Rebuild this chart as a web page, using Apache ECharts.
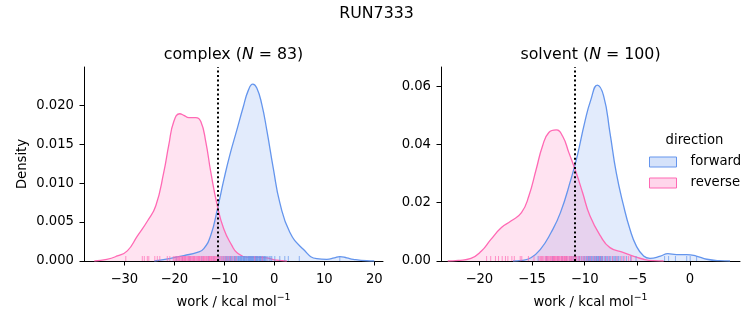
<!DOCTYPE html>
<html>
<head>
<meta charset="utf-8">
<script src="https://cdn.jsdelivr.net/npm/echarts@6/dist/echarts.min.js"></script>
<style>
  html, body { margin: 0; padding: 0; background: #fff; }
  #chart { width: 753px; height: 325px; }
</style>
</head>
<body>
<div id="chart"></div>
<script>
// ---- data -------------------------------------------------------------
// Kernel density curves (work in kcal/mol, density)
const complexForwardWork    = [-24.0, -21.0, -18.1, -15.4, -14.1, -12.7, -11.4, -10.1, -8.9, -7.5, -6.2, -5.2, -4.3, -3.5, -2.5, -1.5, -0.2, 1.1, 3.1, 5.8, 8.5, 10.5, 12.0, 13.1, 14.5, 15.8, 18.5, 20.0];
const complexForwardDensity = [0, 0.0003, 0.0007, 0.0011, 0.0016, 0.0033, 0.0066, 0.0104, 0.0136, 0.0168, 0.0198, 0.0219, 0.0227, 0.0222, 0.0201, 0.0168, 0.0119, 0.0075, 0.0037, 0.0015, 0.0003, 0.00022, 0.0004, 0.00056, 0.0004, 0.00022, 0.00003, 0];

const complexReverseWork    = [-36.0, -33.5, -31.4, -29.4, -27.4, -25.3, -23.7, -22.1, -21.1, -20.1, -18.9, -18.1, -17.1, -15.7, -14.7, -13.7, -12.7, -11.4, -10.1, -8.5, -7.5, -5.5, -3.5, -1.5, 0.5, 2.5];
const complexReverseDensity = [0, 0.0002, 0.00065, 0.0013, 0.0032, 0.0052, 0.0071, 0.0114, 0.0149, 0.0179, 0.0189, 0.0187, 0.0184, 0.0184, 0.0179, 0.0153, 0.0114, 0.0071, 0.0041, 0.0020, 0.0011, 0.0005, 0.0005, 0.0004, 0.0001, 0];

const solventForwardWork    = [-16.8, -16.0, -15.1, -14.2, -13.2, -12.3, -11.3, -10.7, -10.0, -9.4, -8.8, -8.2, -7.6, -7.0, -6.3, -5.7, -5.1, -4.4, -3.8, -2.8, -2.1, -1.3, -0.3, 0.6, 1.6, 2.8, 3.8];
const solventForwardDensity = [0, 0.0002, 0.0011, 0.0040, 0.0097, 0.0166, 0.0281, 0.0361, 0.0475, 0.0555, 0.0604, 0.0567, 0.0441, 0.0303, 0.0189, 0.0109, 0.0052, 0.0017, 0.0009, 0.0017, 0.0025, 0.0022, 0.0022, 0.0017, 0.0006, 0.0001, 0];

const solventReverseWork    = [-23.0, -22.0, -20.8, -19.8, -18.9, -17.9, -17.0, -16.0, -15.3, -14.6, -14.0, -13.4, -12.7, -12.1, -11.5, -10.8, -10.2, -9.5, -8.5, -7.6, -6.3, -5.4, -4.4, -3.5, -2.5];
const solventReverseDensity = [0, 0.0002, 0.0009, 0.0034, 0.0074, 0.0115, 0.0137, 0.0166, 0.0223, 0.0315, 0.0395, 0.0441, 0.0450, 0.0429, 0.0372, 0.0303, 0.0235, 0.0155, 0.0086, 0.0046, 0.0029, 0.0017, 0.0006, 0.0001, 0];

// Individual work values (rug marks)
const complexForwardRug = [-19.6, -18.4, -16.9, -14.5, -13.2, -12.1, -11.2, -10.9, -10.5, -10.2, -9.9, -9.7, -9.4, -9.2, -9.0, -8.7, -8.5, -8.3, -8.0, -7.8, -7.6, -7.4, -7.2, -7.0, -6.8, -6.7, -6.5, -6.3, -6.1, -6.0, -5.8, -5.6, -5.5, -5.3, -5.1, -5.0, -4.8, -4.7, -4.5, -4.4, -4.2, -4.1, -3.9, -3.8, -3.6, -3.4, -3.3, -3.1, -2.9, -2.8, -2.6, -2.4, -2.2, -2.0, -1.8, -1.6, -1.3, -1.0, -0.7, -0.5, 0.1, 1.1, 2.1, 2.8, 5.0, 13.1, -4.6, -5.2, -3.7, -6.6, -7.9, -2.7, -8.8, -4.3, -3.0, -5.9, -1.9, -6.2, -9.6, -4.9, -3.5, -2.3, -7.1];
const complexReverseRug = [-29.7, -26.4, -26.0, -25.4, -25.1, -23.9, -23.4, -22.9, -21.4, -20.9, -20.2, -19.9, -19.7, -19.5, -19.2, -19.0, -18.9, -18.7, -18.5, -18.3, -18.2, -18.0, -17.8, -17.7, -17.5, -17.3, -17.2, -17.0, -16.8, -16.7, -16.5, -16.4, -16.2, -16.0, -15.9, -15.7, -15.5, -15.4, -15.2, -15.0, -14.9, -14.7, -14.5, -14.3, -14.2, -14.0, -13.8, -13.6, -13.5, -13.3, -13.1, -12.9, -12.8, -12.6, -12.4, -12.2, -12.0, -11.8, -11.6, -11.4, -11.2, -10.9, -10.7, -10.4, -10.1, -9.8, -9.4, -9.0, -8.6, -8.1, -7.6, -3.9, -2.4, -18.4, -17.1, -16.1, -15.1, -14.1, -13.0, -12.5, -19.3, -11.9, -17.9];
const solventForwardRug = [-14.42, -13.61, -13.04, -12.53, -12.12, -11.74, -11.41, -11.08, -10.83, -10.62, -10.34, -10.16, -9.97, -9.83, -9.64, -9.52, -9.37, -9.21, -9.06, -8.94, -8.83, -8.71, -8.56, -8.44, -8.32, -8.13, -8.02, -7.84, -7.69, -7.51, -7.33, -7.12, -6.91, -6.63, -6.34, -6.02, -5.63, -5.12, -2.41, -2.03, -1.38, -0.31, 0.02, 0.63, -9.12, -8.88, -8.66, -8.49, -8.27, -8.91, -9.43, -9.74, -10.05, -7.95, -7.61, -7.22, -8.61, -9.29, -8.38, -10.48, -7.04, -6.78, -11.22, -8.75, -9.58];
const solventReverseRug = [-19.31, -18.92, -18.47, -18.18, -17.83, -17.52, -17.29, -16.91, -16.68, -16.12, -15.97, -15.34, -14.81, -14.33, -14.21, -14.05, -13.97, -13.86, -13.71, -13.66, -13.52, -13.44, -13.31, -13.27, -13.12, -13.03, -12.94, -12.88, -12.79, -12.71, -12.63, -12.58, -12.46, -12.39, -12.27, -12.18, -12.11, -12.02, -11.93, -11.84, -11.79, -11.66, -11.58, -11.47, -11.39, -11.26, -11.17, -11.04, -10.93, -10.78, -10.62, -10.49, -10.31, -10.14, -9.96, -9.72, -9.48, -9.19, -8.93, -8.61, -8.37, -8.02, -7.71, -7.36, -6.94, -6.48, -6.19, -5.83, -5.57, -13.58, -12.84, -12.21, -11.71, -13.19, -12.52, -11.91, -14.12, -10.87, -12.97, -11.32];

// Reference work value marked with the dotted vertical line
const complexMarker = -11.3;
const solventMarker = -10.9;

// Axis limits and ticks
const complexXRange = [-38.06, 21.74];
const complexYRange = [0, 0.0249];
const solventXRange = [-23.64, 4.75];
const solventYRange = [0, 0.0666];
const complexXTicks = [-30, -20, -10, 0, 10, 20];
const complexYTicks = [0, 0.005, 0.010, 0.015, 0.020];
const solventXTicks = [-20, -15, -10, -5, 0];
const solventYTicks = [0, 0.02, 0.04, 0.06];

const suptitle = 'RUN7333';
const panels = [
  { name: 'complex', n: 83 },
  { name: 'solvent', n: 100 }
];
const directions = ['forward', 'reverse'];

// ---- styling ----------------------------------------------------------
const FONT = 'DejaVu Sans';
const BLUE = '#6495ED';
const PINK = '#FF69B4';
const BLUE_FILL = 'rgba(100,149,237,0.27)';
const PINK_FILL = 'rgba(255,105,180,0.27)';
const TICK_FS = 13.2;
const TITLE_FS = 15.8;

const zip = (xs, ys) => xs.map((x, i) => [x, ys[i]]);
const minusFmt = v => String(v).replace('-', '\u2212');

const grids = [
  { left: 84, top: 67, width: 299, height: 194 },
  { left: 441, top: 67, width: 299, height: 194 }
];

function xAxis(gi, range, ticks) {
  return {
    type: 'value', gridIndex: gi, min: range[0], max: range[1],
    name: 'work / kcal mol{sup|\u22121}',
    nameLocation: 'middle', nameGap: 32,
    nameTextStyle: {
      fontFamily: FONT, fontSize: TICK_FS, color: '#000', lineHeight: 20,
      rich: { sup: { fontFamily: FONT, fontSize: 9.4, verticalAlign: 'top', lineHeight: 11, color: '#000' } }
    },
    axisLine: { show: true, onZero: false, lineStyle: { color: '#000', width: 1 } },
    axisTick: { show: true, length: 4.5, lineStyle: { color: '#000', width: 1 }, customValues: ticks },
    axisLabel: { fontFamily: FONT, fontSize: TICK_FS, color: '#000', margin: 12, customValues: ticks, formatter: v => minusFmt(Math.round(v)) },
    splitLine: { show: false }
  };
}

function yAxis(gi, range, ticks, digits, withName) {
  return {
    type: 'value', gridIndex: gi, min: range[0], max: range[1],
    name: withName ? 'Density' : '',
    nameLocation: 'middle', nameGap: 55, nameRotate: 90,
    nameTextStyle: { fontFamily: FONT, fontSize: TICK_FS, color: '#000' },
    axisLine: { show: true, onZero: false, lineStyle: { color: '#000', width: 1 } },
    axisTick: { show: true, length: 4.5, lineStyle: { color: '#000', width: 1 }, customValues: ticks },
    axisLabel: { fontFamily: FONT, fontSize: TICK_FS, color: '#000', margin: 10, customValues: ticks, formatter: v => v.toFixed(digits) },
    splitLine: { show: false }
  };
}

function kde(gi, name, xs, ys, color, fill, marker) {
  const s = {
    type: 'line', name, xAxisIndex: gi, yAxisIndex: gi,
    data: zip(xs, ys), smooth: 0.5,
    symbol: 'none', showSymbol: false,
    lineStyle: { color, width: 1.3 },
    itemStyle: { color },
    areaStyle: { color: fill, origin: 'start' },
    emphasis: { disabled: true }, silent: true, z: 2
  };
  if (marker !== undefined) {
    s.markLine = {
      silent: true, symbol: ['none', 'none'], label: { show: false },
      lineStyle: { color: '#000', width: 2, type: [2, 2.6] },
      data: [{ xAxis: marker }], z: 5
    };
  }
  return s;
}

function rug(gi, name, values, color) {
  return {
    type: 'scatter', name, xAxisIndex: gi, yAxisIndex: gi,
    data: values.map(v => [v, 0]),
    symbol: 'rect', symbolSize: [1, 5], symbolOffset: [0, -2.5],
    itemStyle: { color, opacity: 0.7 }, clip: false,
    emphasis: { disabled: true }, silent: true, z: 3
  };
}

function panelTitle(p, cx) {
  return {
    text: '{t|' + p.name + ' (}{i|N}{t| = ' + p.n + ')}',
    left: cx, top: 47, textAlign: 'center', padding: 0,
    textStyle: {
      fontWeight: 'normal',
      rich: {
        t: { fontFamily: FONT, fontSize: TITLE_FS, fontWeight: 'normal', color: '#000' },
        i: { fontFamily: FONT, fontSize: TITLE_FS, fontWeight: 'normal', fontStyle: 'italic', color: '#000' }
      }
    }
  };
}

const option = {
  backgroundColor: '#fff',
  animation: false,
  title: [
    { text: suptitle, left: 376.5, top: 6, textAlign: 'center', padding: 0,
      textStyle: { fontFamily: FONT, fontSize: TITLE_FS, fontWeight: 'normal', color: '#000' } },
    panelTitle(panels[0], 233.5),
    panelTitle(panels[1], 590.5),
    { text: 'direction', left: 694.5, top: 134, textAlign: 'center', padding: 0,
      textStyle: { fontFamily: FONT, fontSize: TICK_FS, fontWeight: 'normal', color: '#000' } }
  ],
  legend: {
    left: 649, top: 154, orient: 'vertical', itemGap: 5,
    itemWidth: 27, itemHeight: 10, icon: 'rect', padding: 0,
    selectedMode: false,
    textStyle: { fontFamily: FONT, fontSize: TICK_FS, color: '#000', lineHeight: 16, padding: [0, 0, 0, 9] },
    data: [
      { name: directions[0], itemStyle: { color: BLUE_FILL, borderColor: BLUE, borderWidth: 1 } },
      { name: directions[1], itemStyle: { color: PINK_FILL, borderColor: PINK, borderWidth: 1 } }
    ]
  },
  grid: grids,
  xAxis: [xAxis(0, complexXRange, complexXTicks), xAxis(1, solventXRange, solventXTicks)],
  yAxis: [yAxis(0, complexYRange, complexYTicks, 3, true), yAxis(1, solventYRange, solventYTicks, 2, false)],
  series: [
    kde(0, directions[0], complexForwardWork, complexForwardDensity, BLUE, BLUE_FILL),
    kde(0, directions[1], complexReverseWork, complexReverseDensity, PINK, PINK_FILL, complexMarker),
    rug(0, 'rug-forward', complexForwardRug, BLUE),
    rug(0, 'rug-reverse', complexReverseRug, PINK),
    kde(1, directions[0], solventForwardWork, solventForwardDensity, BLUE, BLUE_FILL),
    kde(1, directions[1], solventReverseWork, solventReverseDensity, PINK, PINK_FILL, solventMarker),
    rug(1, 'rug-forward', solventForwardRug, BLUE),
    rug(1, 'rug-reverse', solventReverseRug, PINK)
  ]
};

const chart = echarts.init(document.getElementById('chart'), null, { renderer: 'canvas' });
chart.setOption(option);
</script>
</body>
</html>
